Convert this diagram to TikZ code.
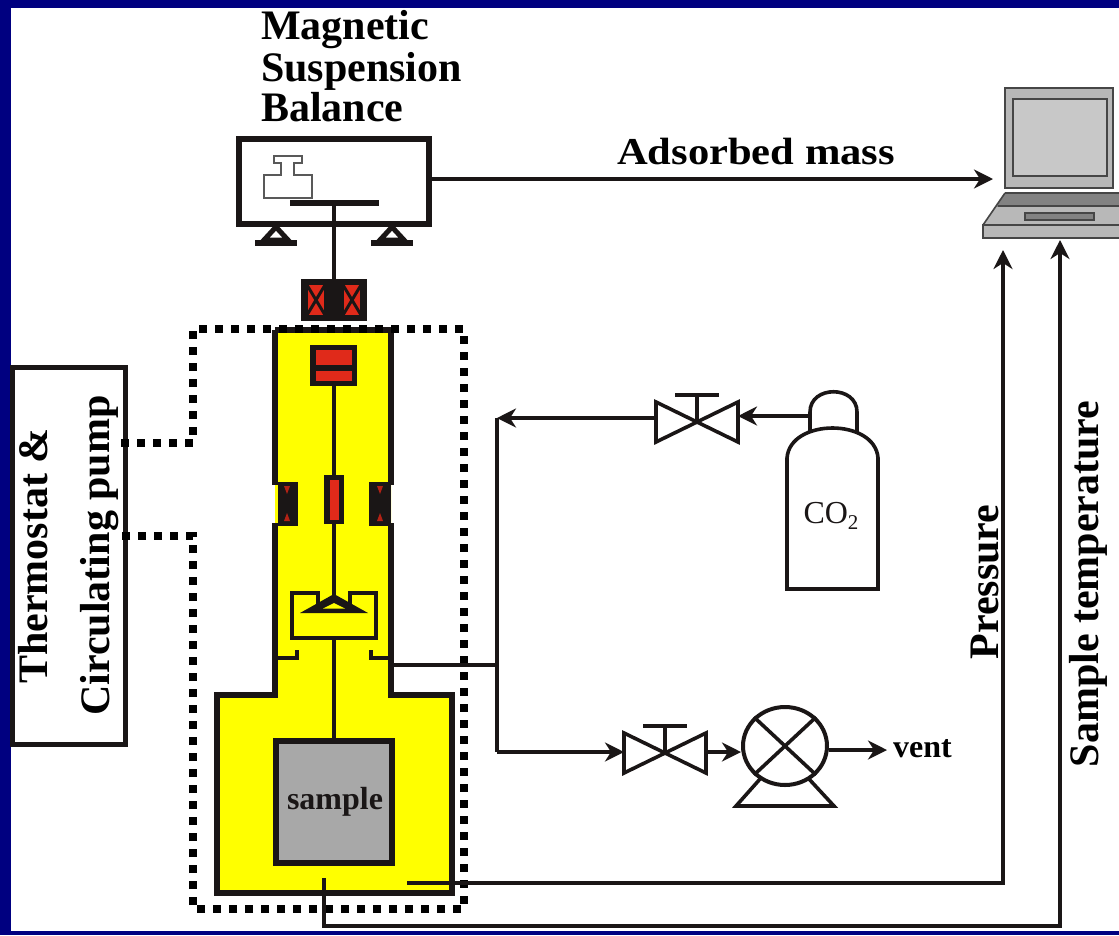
\documentclass[tikz,border=0pt]{standalone}
\usepackage{fontspec}
\setmainfont{Liberation Serif}
\usepackage{xcolor}
\usepackage{tikz}
\usetikzlibrary{calc,arrows.meta,positioning,shapes.geometric}
\definecolor{frameblue}{RGB}{0,0,128}
\definecolor{coilred}{RGB}{224,42,26}
\definecolor{inkblack}{RGB}{26,22,22}
\definecolor{chamberyellow}{RGB}{255,255,0}
\definecolor{samplegray}{RGB}{168,168,168}
\definecolor{lapdark}{RGB}{70,70,70}
\definecolor{lapmid}{RGB}{184,184,184}
\definecolor{lapscreen}{RGB}{200,200,200}
\definecolor{lapkeys}{RGB}{130,130,130}
\tikzset{
  wall/.style={draw=inkblack,line width=5.500pt,line join=miter},
  rod/.style={draw=inkblack,line width=4.500pt},
  pipe/.style={draw=inkblack,line width=3.600pt},
  flow/.style={pipe,-{Stealth[length=19pt,width=19pt,inset=6pt]}},
  jacket/.style={draw=black,line width=8.500pt,dash pattern=on 8pt off 8pt},
  caption/.style={font=\bfseries\fontsize{42}{42}\selectfont,inner sep=0pt,text=black,anchor=base},
  smallcaption/.style={font=\bfseries\fontsize{32}{32}\selectfont,inner sep=0pt,text=inkblack},
  lapline/.style={draw=lapdark,line width=1.600pt},
}
\begin{document}
\begin{tikzpicture}[x=1pt,y=-1pt]
  \useasboundingbox (0,0) rectangle (1119,935);
  \fill[frameblue] (0,0) rectangle (1119,935);
  \fill[white] (11,8) rectangle (1119,931);

  % chamber
  \fill[chamberyellow] (275,330) -- (391,330) -- (391,695) -- (452,695) -- (452,895) -- (215,895) -- (215,695) -- (275,695) -- cycle;
  \draw[wall] (275,330) -- (275,485);
  \draw[wall] (391,330) -- (391,485);
  \draw[wall] (275,523) -- (275,695) -- (217,695) -- (217,893) -- (452,893) -- (452,695) -- (391,695) -- (391,523);
  \draw[wall] (275,330) -- (391,330);

  % balance
  \node[draw=inkblack,line width=5.500pt,fill=white,minimum width=190pt,minimum height=85pt,inner sep=0pt] (balance) at (334,181.5) {};
  \draw[draw=gray!70!black,line width=1.800pt,fill=white] (274,156) -- (302,156) -- (302,163) -- (294,163) -- (294,175) -- (312,175) -- (312,198) -- (264,198) -- (264,175) -- (281,175) -- (281,163) -- (274,163) -- cycle;
  \draw[draw=inkblack,line width=5.500pt] (290,203) -- (379,203);
  \draw[rod] (334,203) -- (334,280);
  \foreach \sx in {276,392} {
    \draw[draw=inkblack,line width=5pt,fill=white] (\sx,227) -- (\sx+12,240) -- (\sx-12,240) -- cycle;
    \draw[draw=inkblack,line width=6pt] (\sx-21,243) -- (\sx+21,243);
  }

  % upper coil
  \fill[inkblack] (301,279) rectangle (367,321);
  \foreach \cx in {316,352} {
    \fill[coilred] (\cx-9,285) rectangle (\cx+9,315);
    \draw[draw=inkblack,line width=3pt] (\cx-9,285) -- (\cx+9,315) (\cx+9,285) -- (\cx-9,315);
    \draw[draw=inkblack,line width=2pt] (\cx-9,285) -- (\cx-9,315) (\cx+9,285) -- (\cx+9,315);
  }

  % suspension
  \fill[inkblack] (310,345) rectangle (357,386);
  \fill[coilred] (316,350) rectangle (352,365);
  \fill[coilred] (316,371) rectangle (352,381);
  \draw[rod] (334,386) -- (334,475);
  \fill[inkblack] (324,475) rectangle (344,524);
  \fill[coilred] (330,480) rectangle (339,520);
  \draw[rod] (334,524) -- (334,597);

  % side coils
  \fill[inkblack] (278,482) rectangle (298,526);
  \fill[inkblack] (369,482) rectangle (391,526);
  \foreach \cx in {287,380} {
    \fill[coilred!80!black] (\cx-3,486) -- (\cx+3,486) -- (\cx,494) -- cycle;
    \fill[coilred!80!black] (\cx-3,521) -- (\cx+3,521) -- (\cx,513) -- cycle;
  }

  % basket
  \draw[rod] (318,608) -- (318,593) -- (292,593) -- (292,638) -- (376,638) -- (376,593) -- (350,593) -- (350,608);
  \fill[inkblack] (334,594) -- (368,613) -- (300,613) -- cycle;
  \fill[chamberyellow] (334,603) -- (345,608.500) -- (323,608.500) -- cycle;
  \draw[rod] (334,638) -- (334,740);
  \draw[rod] (275,658) -- (297,658) -- (297,650);
  \draw[rod] (391,658) -- (371,658) -- (371,650);

  % sample
  \node[draw=inkblack,line width=5.500pt,fill=samplegray,minimum width=116pt,minimum height=122pt,inner sep=0pt] (sample) at (334,802) {};
  \node[smallcaption] (samplelabel) at (335,802) {sample};

  % thermostat
  \node[draw=inkblack,line width=4.500pt,fill=white,minimum width=113pt,minimum height=377pt,inner sep=0pt] (thermostat) at (69,556) {};
  \node[caption,rotate=90] (thermolabel) at (47,556) {Thermostat \&};
  \node[caption,rotate=90] (pumplabel) at (109,555.500) {Circulating pump};
  \coordinate (jacketin) at (121,443);
  \coordinate (jacketout) at (121,536);
  \draw[jacket] (jacketin) -- (193,443) -- (193,329) -- (464,329) -- (464,909) -- (193,909) -- (193,536) -- (jacketout);

  % valves
  \foreach \name/\vx/\vy/\vw in {valvea/697/422/41,valveb/665/753/41} {
    \coordinate (\name) at (\vx,\vy);
    \coordinate (\name l) at (\vx-\vw,\vy);
    \coordinate (\name r) at (\vx+\vw,\vy);
    \draw[pipe,line join=miter,fill=white] (\vx,\vy) -- (\vx-\vw,\vy-20) -- (\vx-\vw,\vy+20) -- cycle;
    \draw[pipe,line join=miter,fill=white] (\vx,\vy) -- (\vx+\vw,\vy-20) -- (\vx+\vw,\vy+20) -- cycle;
    \draw[pipe] (\vx,\vy) -- (\vx,\vy-27);
    \draw[pipe] (\vx-22,\vy-27) -- (\vx+22,\vy-27);
  }

  % cylinder
  \draw[pipe,fill=white] (810,432) -- (810,412) .. controls (810,385) and (857,385) .. (857,412) -- (857,432);
  \draw[pipe,fill=white] (787,589) -- (787,458) .. controls (790,418) and (875,418) .. (878,458) -- (878,589) -- cycle;
  \node[font=\fontsize{32}{32}\selectfont,inner sep=0pt,text=inkblack] (cotwo) at (831,516) {CO\raisebox{-6pt}{\fontsize{21}{21}\selectfont 2}};

  % pump
  \node[draw=inkblack,line width=4pt,fill=white,ellipse,minimum width=84pt,minimum height=78pt,inner sep=0pt] (pump) at (785,746) {};
  \draw[pipe] (pump.north west) -- (pump.south east);
  \draw[pipe] (pump.north east) -- (pump.south west);
  \draw[pipe,line join=miter] (760,779) -- (736,806) -- (834,806) -- (809,779);
  \node[smallcaption,anchor=west,text=black] (vent) at (893,749) {vent};
  \coordinate (ventend) at (887,750);

  % laptop
  \draw[lapline,fill=lapmid] (1005,88) rectangle (1113,188);
  \draw[lapline,fill=lapscreen] (1013,99) rectangle (1107,176);
  \fill[lapkeys] (1005,193) -- (1119,193) -- (1119,225) -- (983,225) -- cycle;
  \fill[lapmid] (983,225) -- (996,207) -- (1119,207) -- (1119,225) -- cycle;
  \draw[lapline] (1005,193) -- (1119,193);
  \draw[lapline] (998,206) -- (1119,206);
  \draw[lapline] (1005,193) -- (983,225);
  \draw[lapline,fill=lapkeys] (1025,213) rectangle (1094,220);
  \draw[lapline,fill=lapmid] (983,225) rectangle (1121,238);
  \coordinate (laptopin) at (993,179);
  \coordinate (laptoppres) at (1003,250);
  \coordinate (laptoptemp) at (1060,240);

  % lines
  \coordinate (tee) at (497,665);
  \coordinate (teetop) at (497,418);
  \coordinate (teelow) at (497,752);
  \coordinate (chamberout) at (391,665);
  \draw[pipe] (chamberout) -- (tee);
  \draw[pipe] (teetop) -- (teelow);
  \draw[flow] (valveal |- teetop) -- (teetop);
  \draw[flow] (810,416) -- (valvear |- 0,416);
  \draw[flow] (teelow) -- (valvebl |- teelow);
  \draw[flow] (valvebr |- teelow) -- (pump.west |- teelow);
  \draw[flow] (pump.east |- ventend) -- (ventend);
  \draw[flow] (balance.east |- laptopin) -- (laptopin);
  \coordinate (presprobe) at (407,883);
  \coordinate (tempprobe) at (324,878);
  \draw[flow] (presprobe) -| (laptoppres);
  \draw[pipe] (tempprobe) -- (324,926) -- (1060,926);
  \draw[flow] (1060,927.800) -- (laptoptemp);

  % labels
  \node[caption,anchor=base west] (magnetic) at (261,39) {Magnetic};
  \node[caption,anchor=base west] (suspension) at (261,81) {Suspension};
  \node[caption,anchor=base west] (balancelabel) at (261,121) {Balance};
  \node[caption,font=\bfseries\fontsize{38}{38}\selectfont,xscale=1.120,transform shape] (massl) at (756,164) {Adsorbed mass};
  \node[caption,rotate=90] (presl) at (998,582) {Pressure};
  \node[caption,rotate=90] (templ) at (1098,584) {Sample temperature};
\end{tikzpicture}
\end{document}
